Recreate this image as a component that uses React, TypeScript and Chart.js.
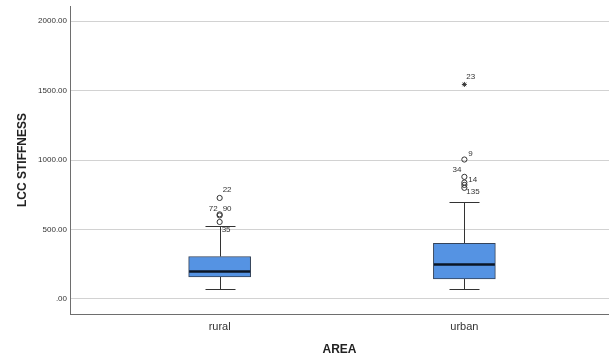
import { useEffect, useRef } from 'react';
import { Chart, registerables } from 'chart.js';

Chart.register(...registerables);

// ---- data ----
const categories = ['rural', 'urban'];
const whiskerLow = [70, 74];
const q1 = [159, 144];
const median = [197, 248];
const q3 = [305, 400];
const whiskerHigh = [522, 700];

const ruralOutliers = [727, 609, 601, 554];
const ruralOutlierIds = ['22', '72', '90', '35'];
const urbanOutliers = [1004, 879, 838, 821, 800];
const urbanOutlierIds = ['9', '34', '14', '', '135'];
const urbanExtremes = [1545];
const urbanExtremeIds = ['23'];

const yTickValues = [0, 500, 1000, 1500, 2000];
const yTickLabels = ['.00', '500.00', '1000.00', '1500.00', '2000.00'];

const yTitle = 'LCC STIFFNESS';
const xTitle = 'AREA';

// ---- label placement (style only): [dx, dy, align] ----
const labelPlacement: Record<string, [number, number, CanvasTextAlign]> = {
  '22': [3, -8, 'left'],
  '72': [-2, -6, 'right'],
  '90': [3, -7, 'left'],
  '35': [2, 8, 'left'],
  '23': [2, -8, 'left'],
  '9': [4, -6, 'left'],
  '34': [-3, -7, 'right'],
  '14': [4, -3, 'left'],
  '135': [2, 4, 'left'],
};

const FONT = '"Liberation Sans", Arial, sans-serif';

const boxPartsPlugin = {
  id: 'boxParts',
  beforeDatasetsDraw(chart: any) {
    const { ctx, scales } = chart;
    const x = scales.x;
    const y = scales.y;
    ctx.save();
    ctx.strokeStyle = '#333333';
    ctx.lineWidth = 1;
    categories.forEach((_, i) => {
      const cx = Math.round(x.getPixelForValue(i + 1)) + 0.5;
      const yl = Math.round(y.getPixelForValue(whiskerLow[i])) + 0.5;
      const yh = Math.round(y.getPixelForValue(whiskerHigh[i])) + 0.5;
      const y1 = y.getPixelForValue(q1[i]);
      const y3 = y.getPixelForValue(q3[i]);
      ctx.beginPath();
      ctx.moveTo(cx, yl);
      ctx.lineTo(cx, y1);
      ctx.moveTo(cx, y3);
      ctx.lineTo(cx, yh);
      ctx.moveTo(cx - 15, yl);
      ctx.lineTo(cx + 15, yl);
      ctx.moveTo(cx - 15, yh);
      ctx.lineTo(cx + 15, yh);
      ctx.stroke();
    });
    ctx.restore();
  },
  afterDatasetsDraw(chart: any) {
    const { ctx, scales } = chart;
    const x = scales.x;
    const y = scales.y;
    ctx.save();
    ctx.strokeStyle = '#0b1626';
    ctx.lineWidth = 2.5;
    categories.forEach((_, i) => {
      const cx = x.getPixelForValue(i + 1);
      const ym = y.getPixelForValue(median[i]);
      ctx.beginPath();
      ctx.moveTo(cx - 30.5, ym);
      ctx.lineTo(cx + 30.5, ym);
      ctx.stroke();
    });
    // outlier labels
    ctx.fillStyle = '#333333';
    ctx.font = `8px ${FONT}`;
    ctx.textBaseline = 'middle';
    const drawLabels = (cat: number, vals: number[], ids: string[]) => {
      vals.forEach((v, j) => {
        const id = ids[j];
        if (!id) return;
        const p = labelPlacement[id] || [3, -6, 'left'];
        ctx.textAlign = p[2];
        ctx.fillText(id, x.getPixelForValue(cat) + p[0], y.getPixelForValue(v) + p[1]);
      });
    };
    drawLabels(1, ruralOutliers, ruralOutlierIds);
    drawLabels(2, urbanOutliers, urbanOutlierIds);
    drawLabels(2, urbanExtremes, urbanExtremeIds);
    ctx.restore();
  },
};

export default function App() {
  const ref = useRef<HTMLCanvasElement>(null);
  useEffect(() => {
    document.body.style.margin = '0';
    document.body.style.overflow = 'hidden';
    const canvas = ref.current;
    if (!canvas) return;
    const chart = new Chart(canvas, {
      type: 'bar',
      data: {
        datasets: [
          {
            type: 'bar',
            data: categories.map((_, i) => ({ x: i + 1, y: [q1[i], q3[i]] })) as any,
            backgroundColor: '#5593e3',
            borderColor: '#34435a',
            borderWidth: 1,
            borderSkipped: false,
            barThickness: 62,
            order: 2,
          } as any,
          {
            type: 'scatter',
            data: [
              ...ruralOutliers.map((v) => ({ x: 1, y: v })),
              ...urbanOutliers.map((v) => ({ x: 2, y: v })),
            ],
            pointStyle: 'circle',
            pointRadius: 2.6,
            pointBorderWidth: 1,
            pointBorderColor: '#333333',
            pointBackgroundColor: 'rgba(0,0,0,0)',
            order: 1,
          } as any,
          {
            type: 'scatter',
            data: urbanExtremes.map((v) => ({ x: 2, y: v })),
            pointStyle: 'star',
            pointRadius: 2.5,
            pointBorderWidth: 1,
            pointBorderColor: '#333333',
            pointBackgroundColor: '#333333',
            order: 1,
          } as any,
        ],
      },
      options: {
        animation: false,
        responsive: false,
        events: [],
        layout: { autoPadding: false, padding: { top: 6, right: 0, bottom: 0, left: 0 } },
        plugins: { legend: { display: false }, tooltip: { enabled: false } },
        scales: {
          x: {
            type: 'linear',
            offset: false,
            min: 0.3885,
            max: 2.591,
            afterFit: (s: any) => {
              s.height = 46;
              s.paddingLeft = 0;
              s.paddingRight = 0;
            },
            afterBuildTicks: (s: any) => {
              s.ticks = categories.map((_, i) => ({ value: i + 1 }));
            },
            ticks: {
              callback: (v: any) => categories[Number(v) - 1] ?? '',
              color: '#333333',
              font: { family: FONT, size: 11 },
              padding: 6,
              maxRotation: 0,
            },
            grid: { display: false, drawTicks: false, offset: false },
            border: { display: true, color: '#6e6e6e', width: 1 },
            title: {
              display: true,
              text: xTitle,
              color: '#222222',
              font: { family: FONT, size: 12, weight: 'bold' },
              padding: { top: 0, bottom: 3 },
            },
          },
          y: {
            type: 'linear',
            min: -109,
            max: 2110,
            afterFit: (s: any) => {
              s.width = 70;
              s.paddingTop = 0;
              s.paddingBottom = 0;
            },
            afterBuildTicks: (s: any) => {
              s.ticks = yTickValues.map((v) => ({ value: v }));
            },
            ticks: {
              callback: (v: any) => yTickLabels[yTickValues.indexOf(Number(v))] ?? '',
              color: '#333333',
              font: { family: FONT, size: 8 },
              padding: 3,
            },
            grid: { color: '#d2d2d2', lineWidth: 1, drawTicks: false },
            border: { display: true, color: '#6e6e6e', width: 1 },
            title: {
              display: true,
              text: yTitle,
              color: '#222222',
              font: { family: FONT, size: 12, weight: 'bold' },
              padding: { top: 15, bottom: 0 },
            },
          },
        },
      },
      plugins: [boxPartsPlugin],
    });
    return () => chart.destroy();
  }, []);
  return (
    <div style={{ width: 609, height: 360, overflow: 'hidden' }}>
      <canvas ref={ref} width={609} height={360} style={{ display: 'block' }} />
    </div>
  );
}
